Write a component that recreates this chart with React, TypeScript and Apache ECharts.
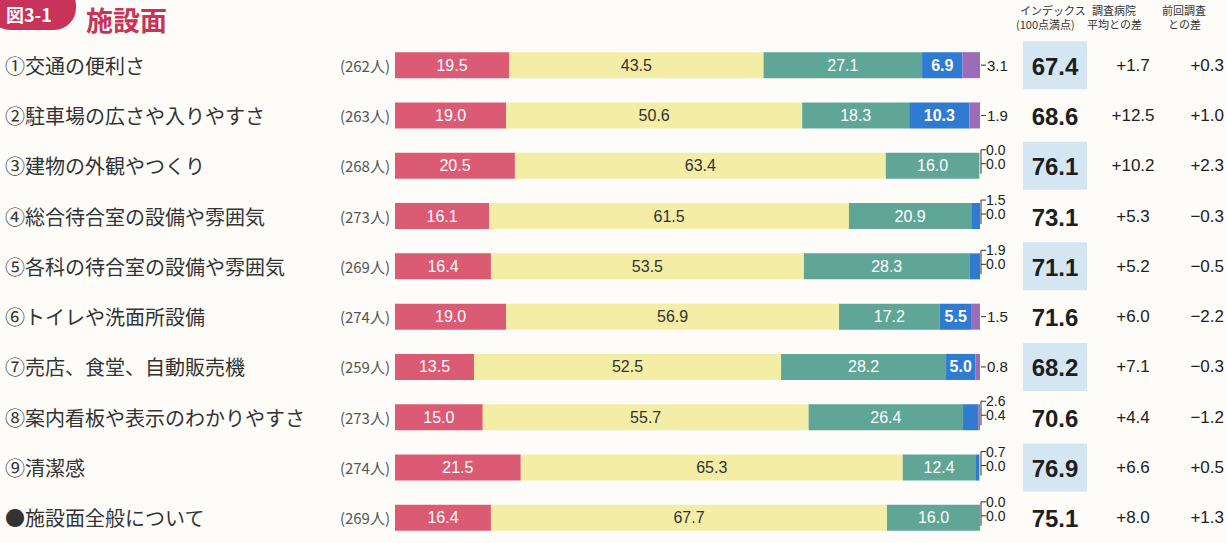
import React, { useEffect, useRef } from "react";
import * as echarts from "echarts";

const categories = [
  "①交通の便利さ",
  "②駐車場の広さや入りやすさ",
  "③建物の外観やつくり",
  "④総合待合室の設備や雰囲気",
  "⑤各科の待合室の設備や雰囲気",
  "⑥トイレや洗面所設備",
  "⑦売店、食堂、自動販売機",
  "⑧案内看板や表示のわかりやすさ",
  "⑨清潔感",
  "●施設面全般について",
];
const counts = ["(262人)", "(263人)", "(268人)", "(273人)", "(269人)", "(274人)", "(259人)", "(273人)", "(274人)", "(269人)"];
const verySatisfied = [19.5, 19.0, 20.5, 16.1, 16.4, 19.0, 13.5, 15.0, 21.5, 16.4];
const satisfied = [43.5, 50.6, 63.4, 61.5, 53.5, 56.9, 52.5, 55.7, 65.3, 67.7];
const neutral = [27.1, 18.3, 16.0, 20.9, 28.3, 17.2, 28.2, 26.4, 12.4, 16.0];
const dissatisfied = [6.9, 10.3, 0.0, 1.5, 1.9, 5.5, 5.0, 2.6, 0.7, 0.0];
const veryDissatisfied = [3.1, 1.9, 0.0, 0.0, 0.0, 1.5, 0.8, 0.4, 0.0, 0.0];
const indexScores = [67.4, 68.6, 76.1, 73.1, 71.1, 71.6, 68.2, 70.6, 76.9, 75.1];
const diffAverage = ["+1.7", "+12.5", "+10.2", "+5.3", "+5.2", "+6.0", "+7.1", "+4.4", "+6.6", "+8.0"];
const diffPrevious = ["+0.3", "+1.0", "+2.3", "−0.3", "−0.5", "−2.2", "−0.3", "−1.2", "+0.5", "+1.3"];

const NUM_FONT = "'Liberation Sans', Arial, sans-serif";
const JP_FONT = "'Noto Sans CJK JP', 'Noto Sans', sans-serif";

export default function App() {
  const ref = useRef<HTMLDivElement>(null);

  useEffect(() => {
    if (!ref.current) return;
    const chart = echarts.init(ref.current, undefined, { renderer: "svg" });

    const mkBar = (name: string, data: number[], color: string, labelColor: string, minShow: number, bold: boolean) => ({
      type: "bar",
      name,
      stack: "total",
      data,
      barWidth: 26,
      itemStyle: { color },
      label: {
        show: true,
        position: "inside",
        color: labelColor,
        fontSize: 16,
        fontFamily: NUM_FONT,
        fontWeight: bold ? "bold" : "normal",
        formatter: (p: any) => (p.value >= minShow ? Number(p.value).toFixed(1) : ""),
      },
    });

    const renderItem = (params: any, api: any) => {
      const i = params.dataIndex;
      const pt = api.coord([100, i]);
      const xEnd = pt[0];
      const yc = pt[1];
      const children: any[] = [];
      const small = { fontSize: 14, fontFamily: NUM_FONT, fill: "#222", verticalAlign: "middle", align: "left" };
      if (dissatisfied[i] >= 5) {
        children.push({ type: "line", shape: { x1: xEnd + 1, y1: yc, x2: xEnd + 6, y2: yc }, style: { stroke: "#333", lineWidth: 1 } });
        children.push({ type: "text", x: xEnd + 7, y: yc, style: { ...small, fontSize: 15, text: veryDissatisfied[i].toFixed(1) } });
      } else {
        const yt = yc - 16;
        const yb = yc - 2;
        children.push({
          type: "polyline",
          shape: { points: [[xEnd + 6, yt], [xEnd + 1, yt], [xEnd + 1, yc + 8]] },
          style: { stroke: "#333", lineWidth: 1, fill: "none" },
        });
        children.push({ type: "line", shape: { x1: xEnd + 1, y1: yb, x2: xEnd + 6, y2: yb }, style: { stroke: "#333", lineWidth: 1 } });
        children.push({ type: "text", x: xEnd + 6, y: yt, style: { ...small, text: dissatisfied[i].toFixed(1) } });
        children.push({ type: "text", x: xEnd + 6, y: yb, style: { ...small, text: veryDissatisfied[i].toFixed(1) } });
      }
      if (i % 2 === 0) {
        children.push({ type: "rect", shape: { x: 1023, y: yc - 24, width: 64, height: 48 }, style: { fill: "#d4e6f1" } });
      }
      children.push({
        type: "text",
        x: 1055,
        y: yc + 1,
        style: { text: indexScores[i].toFixed(1), fontSize: 24, fontWeight: "bold", fontFamily: NUM_FONT, fill: "#1e1e1e", align: "center", verticalAlign: "middle" },
      });
      children.push({
        type: "text",
        x: 1133,
        y: yc,
        style: { text: diffAverage[i], fontSize: 17, fontFamily: NUM_FONT, fill: "#222", align: "center", verticalAlign: "middle" },
      });
      children.push({
        type: "text",
        x: 1224,
        y: yc,
        style: { text: diffPrevious[i], fontSize: 17, fontFamily: NUM_FONT, fill: "#222", align: "right", verticalAlign: "middle" },
      });
      return { type: "group", children };
    };

    const headerStyle = { fontSize: 11, fontFamily: JP_FONT, fill: "#333" };

    chart.setOption({
      animation: false,
      backgroundColor: "#fdfcf9",
      grid: { left: 395, right: 247, top: 40, height: 517, containLabel: false },
      xAxis: { type: "value", min: 0, max: 100, show: false },
      yAxis: {
        type: "category",
        data: categories,
        inverse: true,
        axisLine: { show: false },
        axisTick: { show: false },
        splitLine: { show: false },
        axisLabel: {
          margin: 5,
          formatter: (value: string, idx: number) => `{n|${value}}{c|${counts[idx]}}`,
          rich: {
            n: { width: 325, align: "left", fontSize: 20, fontFamily: JP_FONT, color: "#333" },
            c: { width: 60, align: "right", fontSize: 15, fontFamily: JP_FONT, color: "#555" },
          },
        },
      },
      graphic: [
        { type: "rect", shape: { x: -12, y: -16, width: 88, height: 46, r: 22 }, style: { fill: "#c9335a" } },
        { type: "text", x: 6, y: 5, style: { text: "図3-1", fontSize: 18, fontWeight: "bold", fontFamily: JP_FONT, fill: "#fff", verticalAlign: "top" } },
        { type: "text", x: 86, y: 19, style: { text: "施設面", fontSize: 27, fontWeight: "bold", fontFamily: JP_FONT, fill: "#c9335a", verticalAlign: "middle" } },
        { type: "text", x: 1020, y: 4, style: { ...headerStyle, text: "インデックス" } },
        { type: "text", x: 1016, y: 18, style: { ...headerStyle, text: "(100点満点)" } },
        { type: "text", x: 1092, y: 4, style: { ...headerStyle, text: "調査病院" } },
        { type: "text", x: 1087, y: 18, style: { ...headerStyle, text: "平均との差" } },
        { type: "text", x: 1162, y: 4, style: { ...headerStyle, text: "前回調査" } },
        { type: "text", x: 1168, y: 18, style: { ...headerStyle, text: "との差" } },
      ],
      series: [
        mkBar("大変満足", verySatisfied, "#db5a74", "#ffffff", 0.1, false),
        mkBar("満足", satisfied, "#f3eda6", "#333333", 0.1, false),
        mkBar("普通", neutral, "#5fa697", "#ffffff", 0.1, false),
        mkBar("不満", dissatisfied, "#2f7bd2", "#ffffff", 5, true),
        mkBar("大変不満", veryDissatisfied, "#9d6cb8", "#ffffff", 1000, false),
        {
          type: "custom",
          data: categories.map((_, i) => [100, i]),
          encode: { x: 0, y: 1 },
          clip: false,
          silent: true,
          renderItem,
          z: 5,
        },
      ],
    });

    return () => chart.dispose();
  }, []);

  return (
    <div
      ref={ref}
      style={{ position: "fixed", left: 0, top: 0, width: 1227, height: 543, background: "#fdfcf9" }}
    />
  );
}
